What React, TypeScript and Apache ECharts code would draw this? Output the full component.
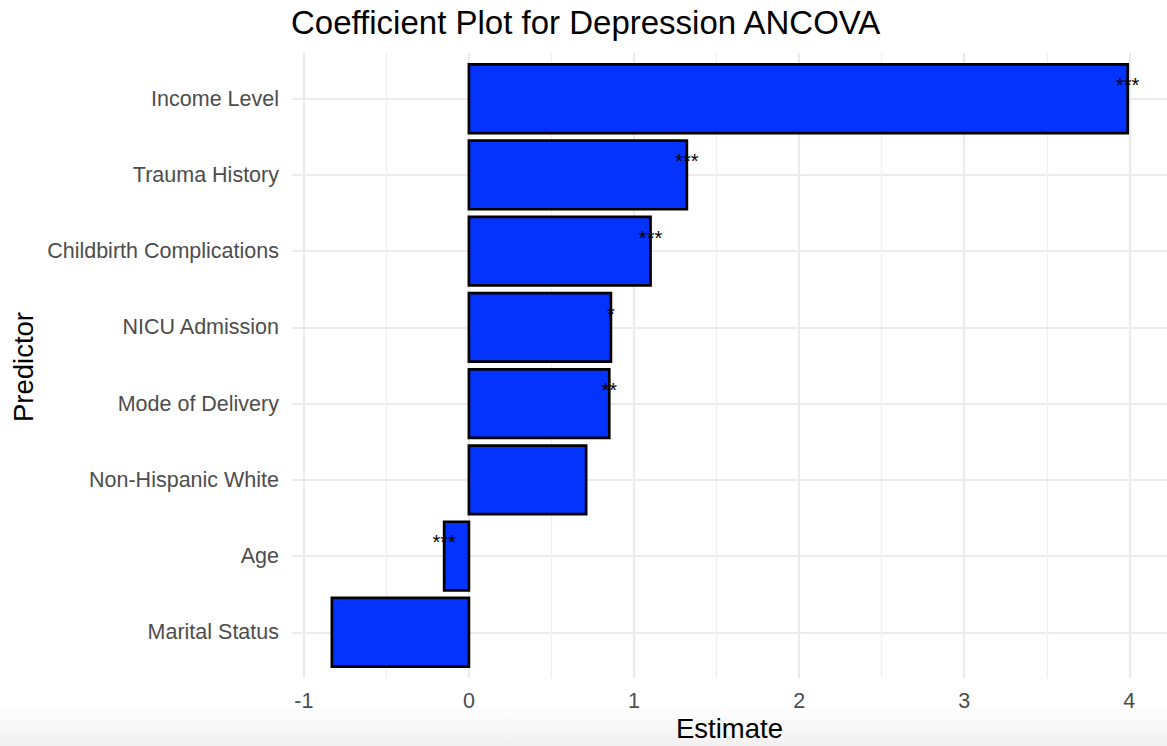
import React, { useEffect, useRef } from "react";
import * as echarts from "echarts";

// Predictors listed top to bottom as in the plot
const predictors = [
  "Income Level",
  "Trauma History",
  "Childbirth Complications",
  "NICU Admission",
  "Mode of Delivery",
  "Non-Hispanic White",
  "Age",
  "Marital Status",
];
const estimates = [3.99, 1.32, 1.1, 0.86, 0.85, 0.71, -0.15, -0.83];
const stars = ["***", "***", "***", "*", "**", "", "***", ""];
const xMajorTicks = [-1, 0, 1, 2, 3, 4];
const xMinorTicks = [-0.5, 0.5, 1.5, 2.5, 3.5];

const FONT = "'Liberation Sans', Arial, Helvetica, sans-serif";

export default function App() {
  const ref = useRef<HTMLDivElement>(null);

  useEffect(() => {
    if (!ref.current) return;
    const chart = echarts.init(ref.current, null, { renderer: "svg" });
    const n = predictors.length;
    const yPos = predictors.map((_, i) => n - i);
    const barData = estimates.map((v, i) => [v, yPos[i]]);
    const xMin = -1.0715;
    const xMax = 4.228;
    const yMin = 0.4;
    const yMax = n + 0.6;

    const option: any = {
      animation: false,
      backgroundColor: "#FFFFFF",
      textStyle: { fontFamily: FONT },
      grid: { left: 292, right: 0, top: 53, bottom: 68, containLabel: false },
      xAxis: [
        {
          type: "value",
          min: xMin,
          max: xMax,
          axisLine: { show: false },
          axisTick: { show: false, customValues: xMajorTicks },
          axisLabel: {
            customValues: xMajorTicks,
            color: "#4D4D4D",
            fontSize: 21.5,
            fontFamily: FONT,
            margin: 12,
            formatter: (v: number) => String(v),
          },
          splitLine: { show: true, lineStyle: { color: "#EBEBEB", width: 2.2 } },
        },
        {
          type: "value",
          min: xMin,
          max: xMax,
          position: "bottom",
          axisLine: { show: false },
          axisTick: { show: false, customValues: xMinorTicks },
          axisLabel: { show: false, customValues: xMinorTicks },
          splitLine: { show: true, lineStyle: { color: "#EFEFEF", width: 1.3 } },
        },
      ],
      yAxis: {
        type: "value",
        min: yMin,
        max: yMax,
        axisLine: { show: false },
        axisTick: { show: false, customValues: yPos },
        axisLabel: {
          customValues: yPos,
          color: "#4D4D4D",
          fontSize: 21.5,
          fontFamily: FONT,
          margin: 13,
          formatter: (v: number) => predictors[n - Math.round(v)] ?? "",
        },
        splitLine: { show: true, lineStyle: { color: "#EBEBEB", width: 2.2 } },
      },
      graphic: [
        {
          type: "rect",
          silent: true,
          z: -100,
          shape: { x: 0, y: 704, width: 1167, height: 42 },
          style: {
            fill: new echarts.graphic.LinearGradient(0, 0, 0, 1, [
              { offset: 0, color: "#FFFFFF" },
              { offset: 1, color: "#F1F1F1" },
            ]),
          },
        },
        {
          type: "text",
          x: 291,
          y: 22,
          style: {
            text: "Coefficient Plot for Depression ANCOVA",
            fontSize: 33,
            fontFamily: FONT,
            fill: "#000000",
            align: "left",
            verticalAlign: "middle",
          },
        },
        {
          type: "text",
          x: 729.5,
          y: 728,
          style: {
            text: "Estimate",
            fontSize: 27.5,
            fontFamily: FONT,
            fill: "#000000",
            align: "center",
            verticalAlign: "middle",
          },
        },
        {
          type: "text",
          x: 23,
          y: 367,
          rotation: Math.PI / 2,
          style: {
            text: "Predictor",
            fontSize: 27.5,
            fontFamily: FONT,
            fill: "#000000",
            align: "center",
            verticalAlign: "middle",
          },
        },
      ],
      series: [
        {
          type: "custom",
          xAxisIndex: 0,
          yAxisIndex: 0,
          data: barData,
          encode: { x: 0, y: 1 },
          renderItem: (params: any, api: any) => {
            const v = api.value(0);
            const y = api.value(1);
            const p0 = api.coord([0, y]);
            const p1 = api.coord([v, y]);
            const h = api.size([0, 0.9])[1];
            return {
              type: "rect",
              shape: {
                x: Math.min(p0[0], p1[0]),
                y: p0[1] - h / 2,
                width: Math.abs(p1[0] - p0[0]),
                height: h,
              },
              style: { fill: "#0433FF", stroke: "#000000", lineWidth: 2.7 },
            };
          },
        },
        {
          type: "custom",
          xAxisIndex: 0,
          yAxisIndex: 0,
          data: barData,
          encode: { x: 0, y: 1 },
          z: 5,
          renderItem: (params: any, api: any) => {
            const v = api.value(0);
            const y = api.value(1);
            const p = api.coord([v, y]);
            return {
              type: "text",
              x: p[0],
              y: p[1] - 13.6,
              style: {
                text: stars[params.dataIndex],
                fontSize: 20,
                fontFamily: FONT,
                fill: "#000000",
                align: "center",
                verticalAlign: "middle",
              },
            };
          },
        },
      ],
    };
    chart.setOption(option);
    return () => chart.dispose();
  }, []);

  return (
    <div
      ref={ref}
      style={{ position: "fixed", left: 0, top: 0, width: 1167, height: 746 }}
    />
  );
}
